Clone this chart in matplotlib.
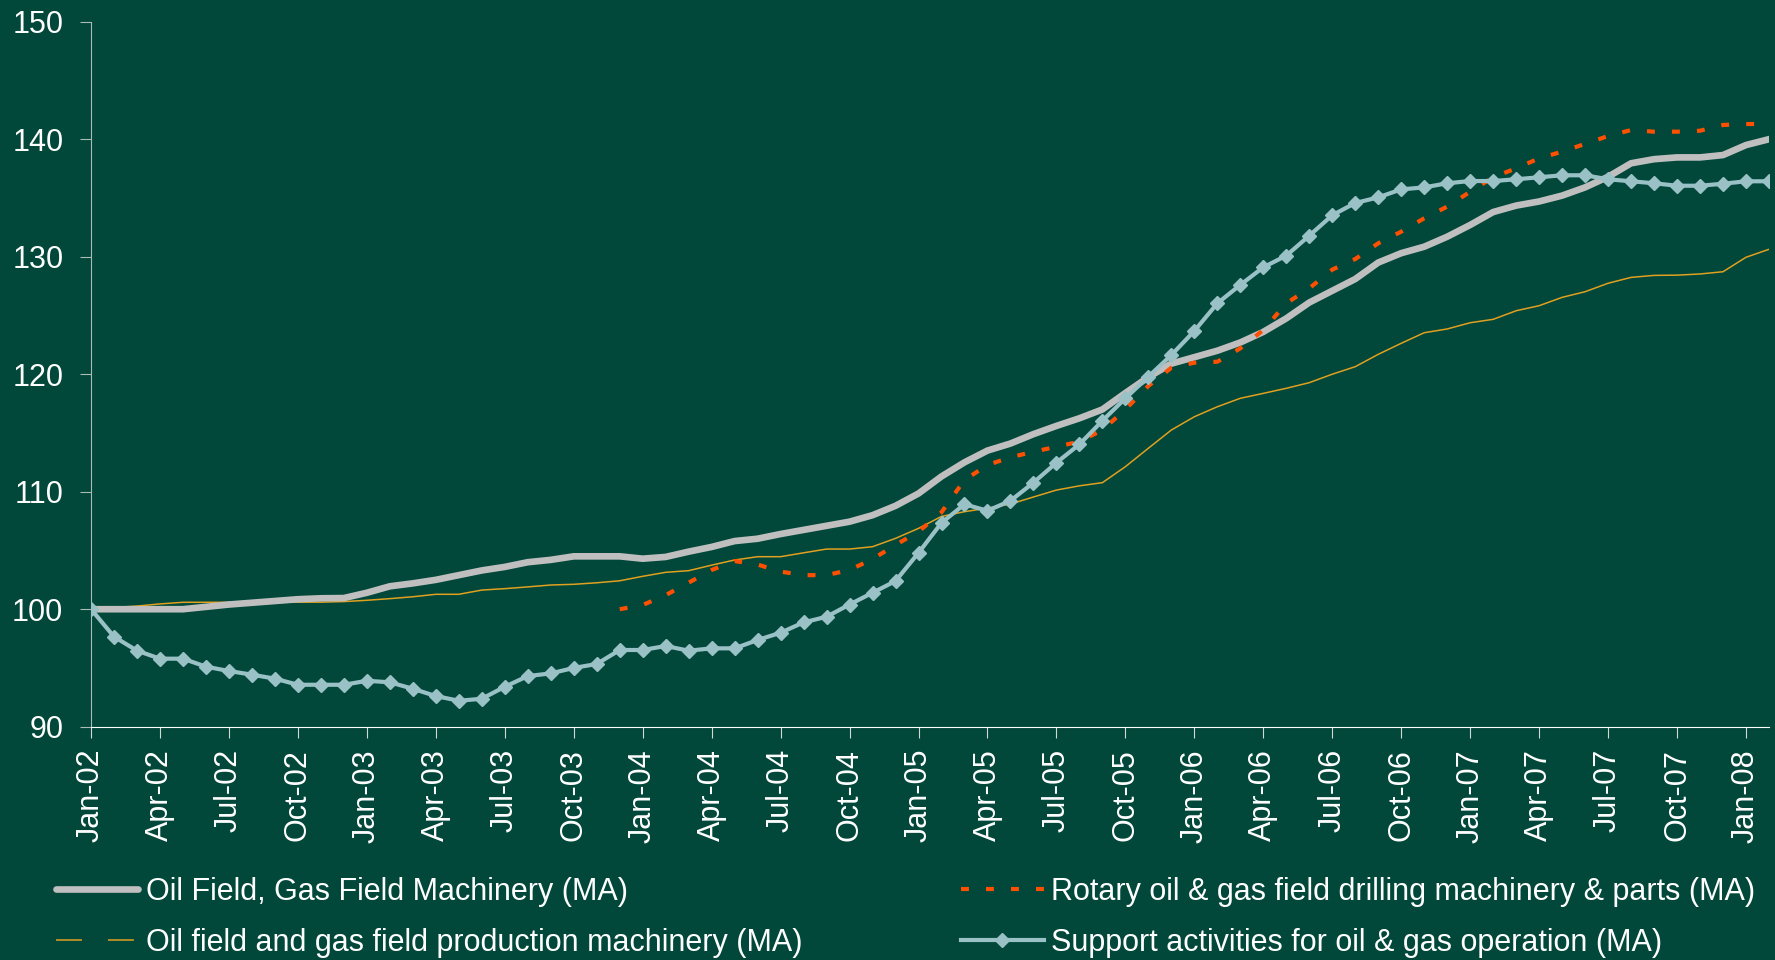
import numpy as np
import matplotlib
matplotlib.use("Agg")
import matplotlib.pyplot as plt
from matplotlib.lines import Line2D

# monthly index values, Jan-02 .. Feb-08
oil_gas_machinery = [
    100.0, 100.0, 100.0, 100.0, 100.0, 100.2, 100.4, 100.55, 100.7, 100.85,
    100.93, 100.95, 101.4, 101.95, 102.2, 102.5, 102.9, 103.3, 103.6, 104.0,
    104.2, 104.5, 104.5, 104.5, 104.3, 104.45, 104.9, 105.3, 105.8, 106.0,
    106.4, 106.75, 107.1, 107.45, 108.0, 108.8, 109.85, 111.3, 112.5, 113.5,
    114.1, 114.9, 115.6, 116.25, 117.0, 118.4, 119.75, 120.9, 121.45, 122.0,
    122.7, 123.6, 124.75, 126.1, 127.1, 128.1, 129.5, 130.3, 130.85, 131.7,
    132.7, 133.8, 134.35, 134.7, 135.2, 135.9, 136.8, 137.95, 138.3, 138.45,
    138.45, 138.65, 139.5, 140.0,
]

rotary_drilling = [np.nan] * 23 + [
    100.0, 100.36, 101.2, 102.26, 103.34, 104.1, 103.8, 103.2, 102.9, 102.9,
    103.34, 104.27, 105.47, 106.6, 108.25, 111.0, 112.27, 112.93, 113.4, 113.83,
    114.26, 115.25, 117.0, 119.0, 120.55, 120.98, 121.06, 122.2, 123.76, 126.03,
    127.31, 128.9, 129.8, 131.14, 132.13, 133.27, 134.26, 135.53, 136.76, 137.52,
    138.37, 138.94, 139.6, 140.27, 140.78, 140.64, 140.64, 140.72, 141.21, 141.29,
    141.3,
]

production_machinery = [
    100.0, 100.15, 100.27, 100.45, 100.59, 100.59, 100.59, 100.6, 100.6, 100.6,
    100.6, 100.65, 100.76, 100.9, 101.06, 101.27, 101.27, 101.63, 101.75, 101.9,
    102.06, 102.12, 102.25, 102.42, 102.8, 103.14, 103.28, 103.75, 104.19, 104.47,
    104.47, 104.8, 105.12, 105.12, 105.32, 106.03, 106.88, 107.9, 108.3, 108.6,
    108.95, 109.55, 110.14, 110.5, 110.77, 112.13, 113.7, 115.25, 116.38, 117.23,
    117.95, 118.37, 118.8, 119.28, 120.0, 120.64, 121.69, 122.63, 123.53, 123.85,
    124.38, 124.67, 125.4, 125.83, 126.54, 127.02, 127.74, 128.24, 128.41, 128.43,
    128.53, 128.72, 129.95, 130.63,
]

support_activities = [
    100.0, 97.66, 96.47, 95.79, 95.79, 95.11, 94.74, 94.43, 94.09, 93.57,
    93.57, 93.57, 93.91, 93.78, 93.23, 92.61, 92.21, 92.38, 93.4, 94.31,
    94.54, 95.0, 95.34, 96.53, 96.53, 96.87, 96.47, 96.67, 96.67, 97.38,
    98.0, 98.88, 99.36, 100.4, 101.4, 102.4, 104.8, 107.35, 108.93, 108.38,
    109.23, 110.77, 112.47, 114.03, 116.04, 117.95, 119.79, 121.63, 123.68, 126.03,
    127.6, 129.1, 130.09, 131.79, 133.53, 134.57, 135.05, 135.73, 135.9, 136.25,
    136.44, 136.44, 136.59, 136.76, 136.93, 136.93, 136.59, 136.42, 136.25, 136.04,
    136.04, 136.21, 136.42, 136.42,
]

tick_labels = [
    "Jan-02", "Apr-02", "Jul-02", "Oct-02", "Jan-03", "Apr-03", "Jul-03", "Oct-03",
    "Jan-04", "Apr-04", "Jul-04", "Oct-04", "Jan-05", "Apr-05", "Jul-05", "Oct-05",
    "Jan-06", "Apr-06", "Jul-06", "Oct-06", "Jan-07", "Apr-07", "Jul-07", "Oct-07",
    "Jan-08",
]

lbl_gray = "Oil Field, Gas Field Machinery (MA)"
lbl_rotary = "Rotary oil & gas field drilling machinery & parts (MA)"
lbl_prod = "Oil field and gas field production machinery (MA)"
lbl_support = "Support activities for oil & gas operation (MA)"

bg = "#01473A"
c_gray = "#BFBFBF"
c_red = "#FF4F00"
c_gold = "#E0A020"
c_blue = "#99C1C6"

plt.rcParams["font.family"] = ["Liberation Sans", "DejaVu Sans"]

fig = plt.figure(figsize=(17.75, 9.6), dpi=100, facecolor=bg)
ax = fig.add_axes([0.0513, 0.243, 0.9453, 0.7344], facecolor=bg)

x = np.arange(len(oil_gas_machinery))

ax.plot(x, production_machinery, color=c_gold, lw=1.1, zorder=2)
ax.plot(x, oil_gas_machinery, color=c_gray, lw=4.8, zorder=3, solid_joinstyle="round")
ax.plot(x, rotary_drilling, color=c_red, lw=3, dashes=(1.9, 4.1), zorder=4)
ax.plot(x, support_activities, color=c_blue, lw=3, marker="D", ms=7, zorder=5)

ax.set_xlim(0, 73)
ax.set_ylim(90, 150)
ax.set_yticks(range(90, 151, 10))
ax.set_xticks(range(0, 73, 3))
ax.set_xticklabels(tick_labels, rotation=90)

for s in ["top", "right"]:
    ax.spines[s].set_visible(False)
ax.spines["left"].set_color("#A9BDB6")
ax.spines["bottom"].set_color("white")
ax.tick_params(axis="y", colors="#A9BDB6", labelcolor="white", labelsize=22,
               length=8, pad=12, direction="out")
ax.tick_params(axis="x", colors="#D0DAD6", labelcolor="white", labelsize=22,
               length=8, pad=8, direction="out")

# legend is filled column by column
handles = [
    Line2D([], [], color=c_gray, lw=4.8, solid_capstyle="round"),
    Line2D([], [], color=c_gold, lw=1.1, dashes=(17, 17)),
    Line2D([], [], color=c_red, lw=3, dashes=(1.9, 4.1)),
    Line2D([], [], color=c_blue, lw=3, marker="D", ms=7),
]
labels = [lbl_gray, lbl_prod, lbl_rotary, lbl_support]
leg = fig.legend(handles, labels, ncol=2, loc="upper left",
                 bbox_to_anchor=(0.0245, 0.099), frameon=False, fontsize=22,
                 handlelength=2.7, handletextpad=0.25, columnspacing=5.2,
                 labelspacing=0.67, borderaxespad=0, numpoints=1)
for t in leg.get_texts():
    t.set_color("white")

fig.savefig("out.png", dpi=100, facecolor=bg)
